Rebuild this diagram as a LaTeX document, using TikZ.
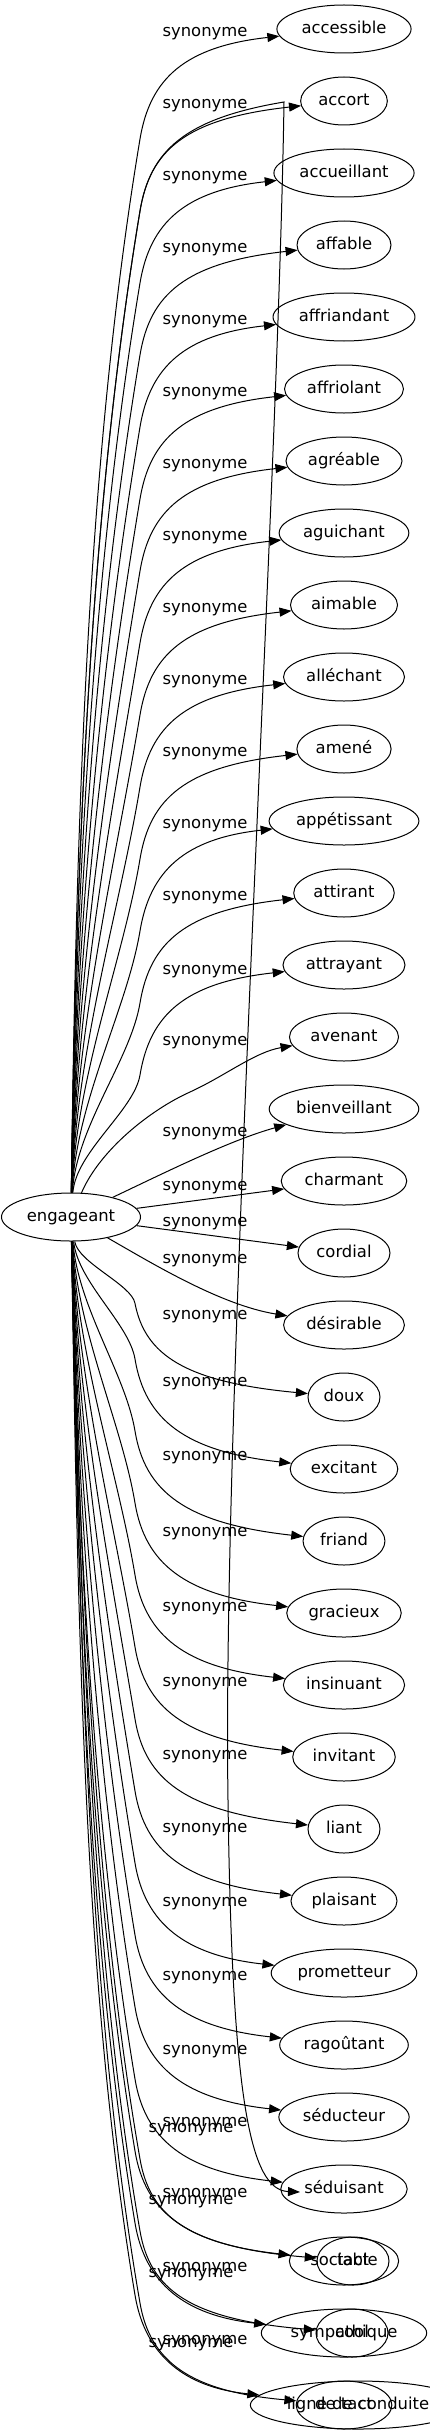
\documentclass[tikz,border=0pt]{standalone}
\usepackage{fontspec}
\setmainfont{DejaVu Sans}
\usetikzlibrary{arrows.meta,shapes.geometric}
\begin{document}
\begin{tikzpicture}[x=1pt,y=-1pt,
  font=\fontsize{16.4}{19}\selectfont,
  nd/.style={draw, ellipse, line width=1pt, minimum width=72pt, minimum height=48pt,
    inner xsep=5pt, inner ysep=0pt, text height=9pt, text depth=0pt},
  lab/.style={inner sep=0pt, text height=9pt, text depth=0pt},
  edge/.style={line width=1pt, -{Triangle[length=12pt,width=9pt]}}]
\fill[white] (0,0) rectangle (430,2435);
\useasboundingbox (0,0) rectangle (430,2435);
% nodes
\node[nd] (eng) at (71,1217) {engageant};
\foreach \i/\t/\ty in {1/accessible/29,2/accort/101,3/accueillant/173,4/affable/245,
  5/affriandant/317,6/affriolant/389,7/agréable/461,8/aguichant/533,9/aimable/605,
  10/alléchant/677,11/amené/749,12/appétissant/821,13/attirant/893,14/attrayant/965,
  15/avenant/1037,16/bienveillant/1109,17/charmant/1181,18/cordial/1253,19/désirable/1325,
  20/doux/1397,21/excitant/1469,22/friand/1541,23/gracieux/1613,24/insinuant/1685,
  25/invitant/1757,26/liant/1829,27/plaisant/1901,28/prometteur/1973,29/ragoûtant/2045,
  30/séducteur/2117,31/séduisant/2189,32/sociable/2261,33/sympathique/2333}
  \node[nd] (n\i) at (344,\ty) {\t};
\node[nd] (n34) at (358,2405) {ligne de conduite};
\node[nd] (tact) at (353,2261) {tact};
\node[nd] (cool) at (352,2333) {cool};
\node[nd] (dtact) at (344,2405) {de tact};
\coordinate (sedin) at (300,2192);
% labels
\foreach \ly [count=\k] in {32,104,176,248,320,392,464,536,608,680,752,824,896,970,1041,1132,
  1186,1222,1259,1315,1382,1456,1532,1607,1682,1755,1828,1902,1976,2050,2122,2193,2267,2340}
  \node[lab] (lab\k) at (205,\ly) {synonyme};
\foreach \ly [count=\k] in {2128,2200,2273,2343}
  \node[lab] (labb\k) at (191,\ly) {synonyme};
% top edges
\foreach \i/\ty in {1/29,2/101,3/173,4/245,5/317,6/389,7/461,8/533,9/605,10/677,11/749,
  12/821,13/893,14/965}{
  \pgfmathsetmacro\D{1193-\ty}
  \pgfmathsetmacro\h{min(110,0.5*\D)}
  \pgfmathsetmacro\L{1193-\ty-\h}
  \pgfmathsetmacro\cA{1193-0.35*\L}
  \pgfmathsetmacro\cBx{140-0.05*\L}
  \pgfmathsetmacro\cBy{\ty+\h+0.3*\L}
  \pgfmathsetmacro\Py{\ty+\h}
  \pgfmathsetmacro\qA{\ty+0.45*\h}
  \pgfmathsetmacro\qB{\ty+0.16*\h}
  \draw[edge] (eng) .. controls (76,\cA) and (\cBx,\cBy) .. (140,\Py)
     .. controls (150,\qA) and (185,\qB) .. (n\i);
}
\draw[edge] (eng) .. controls (100,1150) and (150,1110) .. (190,1092)
   .. controls (225,1076) and (255,1052) .. (n15);
% middle edges
\draw[edge] (eng) .. controls (160,1175) and (230,1140) .. (n16);
\draw[edge] (eng) -- (n17);
\draw[edge] (eng) -- (n18);
\draw[edge] (eng) .. controls (150,1262) and (220,1305) .. (n19);
% bottom edges
\foreach \i/\ty in {20/1397,21/1469,22/1541,23/1613,24/1685,25/1757,26/1829,27/1901,
  28/1973,29/2045,30/2117,31/2189,32/2261,33/2333,34/2405}{
  \pgfmathsetmacro\D{\ty-1241}
  \pgfmathsetmacro\h{min(110,0.6*\D)}
  \pgfmathsetmacro\L{\ty-\h-1241}
  \pgfmathsetmacro\cA{1241+0.35*\L}
  \pgfmathsetmacro\cBx{135-0.05*\L}
  \pgfmathsetmacro\cBy{\ty-\h-0.3*\L}
  \pgfmathsetmacro\Py{\ty-\h}
  \pgfmathsetmacro\qA{\ty-0.45*\h}
  \pgfmathsetmacro\qB{\ty-0.16*\h}
  \draw[edge] (eng) .. controls (78,\cA) and (\cBx,\cBy) .. (135,\Py)
     .. controls (145,\qA) and (185,\qB) .. (n\i);
}
% second set
\foreach \nm/\ty in {tact/2261,cool/2333,dtact/2405}{
  \pgfmathsetmacro\h{110}
  \pgfmathsetmacro\L{\ty-\h-1241}
  \pgfmathsetmacro\cA{1241+0.35*\L}
  \pgfmathsetmacro\cBx{138-0.05*\L}
  \pgfmathsetmacro\cBy{\ty-\h+8-0.3*\L}
  \pgfmathsetmacro\Py{\ty-\h+8}
  \pgfmathsetmacro\qA{\ty-0.45*\h+6}
  \pgfmathsetmacro\qB{\ty-0.16*\h+4}
  \draw[edge] (eng) .. controls (80,\cA) and (\cBx,\cBy) .. (140,\Py)
     .. controls (150,\qA) and (190,\qB) .. (\nm);
}
\draw[edge] (eng) .. controls (76,849) and (91,506) .. (140,211)
   .. controls (150,150.5) and (185,118.6) .. (284,102)
   .. controls (278,500) and (222,1400) .. (228,1800)
   .. controls (232,2100) and (250,2190) .. (sedin);
\end{tikzpicture}
\end{document}
